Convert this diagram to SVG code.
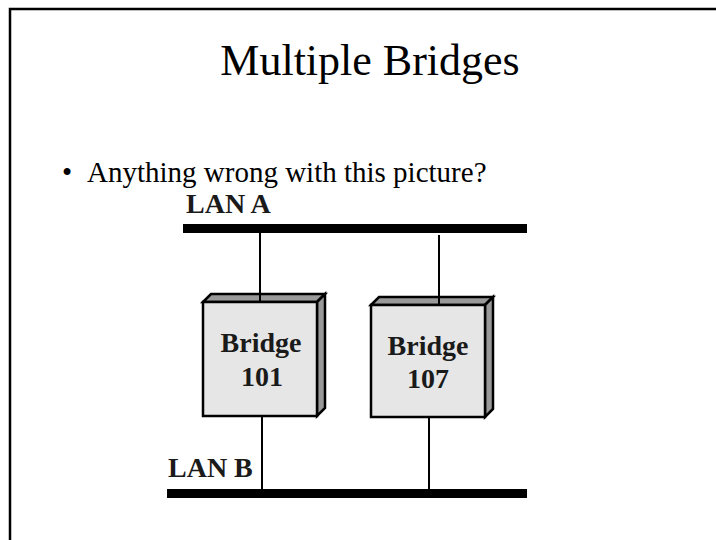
<svg xmlns="http://www.w3.org/2000/svg" width="716" height="540" viewBox="0 0 716 540">
  <style>
    .title { font-family: "Liberation Serif", "Times New Roman", serif; font-size: 44px; fill: #000; }
    .body { font-family: "Liberation Serif", "Times New Roman", serif; font-size: 29px; fill: #000; }
    .label { font-family: "Liberation Serif", "Times New Roman", serif; font-size: 28px; font-weight: bold; fill: #1a1a1a; }
    .front { fill: #e6e6e6; stroke: #000; stroke-width: 2.5; stroke-linejoin: miter; }
    .shade { fill: #999999; stroke: #000; stroke-width: 2.5; stroke-linejoin: miter; }
    .bus { fill: #000; }
    .wire { stroke: #000; stroke-width: 2; fill: none; }
  </style>

  <rect x="0" y="0" width="716" height="540" fill="#fff"/>
  <!-- slide frame -->
  <path d="M10,540 V9 H716" fill="none" stroke="#000" stroke-width="2.5"/>

  <text class="title" x="370" y="75" text-anchor="middle">Multiple Bridges</text>
  <text class="body" x="62" y="182">•</text>
  <text class="body" x="87" y="182">Anything wrong with this picture?</text>

  <!-- LAN segments -->
  <g id="lanA">
    <text class="label" x="186" y="213">LAN A</text>
    <rect class="bus" x="183" y="224" width="344" height="9"/>
  </g>
  <g id="lanB">
    <text class="label" x="168" y="477">LAN B</text>
    <rect class="bus" x="167" y="489" width="360" height="9"/>
  </g>

  <!-- bridge boxes -->
  <g id="bridge101">
    <polygon class="shade" points="203,302 211,294 325,294 317,302"/>
    <polygon class="shade" points="317,302 325,294 325,408 317,416"/>
    <rect class="front" x="203" y="302" width="114" height="114"/>
    <text class="label" x="261" y="352" text-anchor="middle">Bridge</text>
    <text class="label" x="262" y="386" text-anchor="middle">101</text>
  </g>
  <g id="bridge107">
    <polygon class="shade" points="371,305 379,297 493,297 485,305"/>
    <polygon class="shade" points="485,305 493,297 493,409 485,417"/>
    <rect class="front" x="371" y="305" width="114" height="112"/>
    <text class="label" x="428" y="355" text-anchor="middle">Bridge</text>
    <text class="label" x="428" y="388" text-anchor="middle">107</text>
  </g>

  <!-- attachment lines -->
  <g id="connectors">
    <line class="wire" x1="260" y1="233" x2="260" y2="302"/>
    <line class="wire" x1="439" y1="235" x2="439" y2="305"/>
    <line class="wire" x1="262" y1="416" x2="262" y2="489"/>
    <line class="wire" x1="429" y1="417" x2="429" y2="489"/>
  </g>
</svg>
